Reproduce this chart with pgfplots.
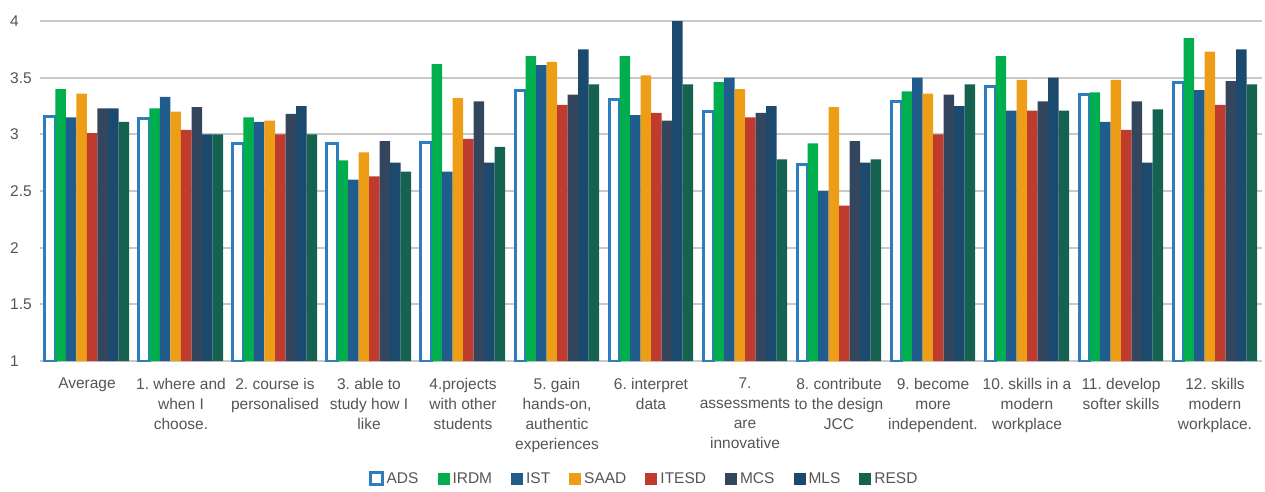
\documentclass[border=0pt]{standalone}
\usepackage{fontspec}
\setmainfont{Liberation Sans}
\usepackage{pgfplots}
\usepackage{pgfplotstable}
\pgfplotsset{compat=1.18}

\definecolor{cADS}{HTML}{2E7DC0}
\definecolor{cIRDM}{HTML}{00AE4D}
\definecolor{cIST}{HTML}{205D8C}
\definecolor{cSAAD}{HTML}{EE9E16}
\definecolor{cITESD}{HTML}{BE3B2E}
\definecolor{cMCS}{HTML}{34465E}
\definecolor{cMLS}{HTML}{1B4A6E}
\definecolor{cRESD}{HTML}{14624F}
\definecolor{gridgray}{HTML}{C9C9C9}
\definecolor{labelgray}{HTML}{555555}

\newcommand\chartfont{\fontsize{15.5}{20}\selectfont}
\frenchspacing

% mean rating per item and programme
\pgfplotstableread{
idx ADS  IRDM IST  SAAD ITESD MCS  MLS  RESD
0   3.16 3.40 3.15 3.36 3.01  3.23 3.23 3.11
1   3.14 3.23 3.33 3.20 3.04  3.24 3.00 3.00
2   2.92 3.15 3.11 3.12 3.00  3.18 3.25 3.00
3   2.92 2.77 2.60 2.84 2.63  2.94 2.75 2.67
4   2.93 3.62 2.67 3.32 2.96  3.29 2.75 2.89
5   3.39 3.69 3.61 3.64 3.26  3.35 3.75 3.44
6   3.31 3.69 3.17 3.52 3.19  3.12 4.00 3.44
7   3.20 3.46 3.50 3.40 3.15  3.19 3.25 2.78
8   2.73 2.92 2.50 3.24 2.37  2.94 2.75 2.78
9   3.29 3.38 3.50 3.36 3.00  3.35 3.25 3.44
10  3.42 3.69 3.21 3.48 3.21  3.29 3.50 3.21
11  3.35 3.37 3.11 3.48 3.04  3.29 2.75 3.22
12  3.46 3.85 3.39 3.73 3.26  3.47 3.75 3.44
}\ratings

\begin{document}
\begin{tikzpicture}
\begin{axis}[
  at={(0pt,0pt)}, anchor=south west,
  scale only axis,
  width=1222pt, height=340pt,
  ymin=1, ymax=4,
  ytick={1,1.5,2,2.5,3,3.5,4},
  xmin=-0.5, xmax=12.5,
  xtick={0,1,2,3,4,5,6,7,8,9,10,11,12},
  xticklabels={
    Average,
    {1. where and\\when I\\choose.},
    {2. course is\\personalised},
    {3. able to\\study how I\\like},
    {4.projects\\with other\\students},
    {5. gain\\hands-on,\\authentic\\experiences},
    {6. interpret\\data},
    {7.\\assessments\\are\\innovative},
    {8. contribute\\to the design\\JCC},
    {9. become\\more\\independent.},
    {10. skills in a\\modern\\workplace},
    {11. develop\\softer skills},
    {12. skills\\modern\\workplace.}
  },
  ybar=0pt, bar width=10.5pt,
  ymajorgrids,
  grid style={line width=2pt, draw=gridgray},
  axis line style={draw=none},
  major tick length=0pt,
  /pgf/number format/assume math mode=true,
  tick label style={font=\chartfont, text=labelgray},
  xticklabel style={align=center, anchor=north, inner sep=0pt, yshift=-17pt},
  yticklabel style={anchor=west, inner sep=0pt, xshift=-30pt},
  legend columns=-1,
  legend style={
    at={(0.4935,-0.3456)}, anchor=center,
    draw=none, fill=none,
    font=\chartfont, text=labelgray,
    nodes={inner sep=0pt},
    /tikz/every odd column/.append style={column sep=3pt},
    /tikz/every even column/.append style={column sep=19pt},
  },
  legend image code/.code={\path[#1] (0pt,-6pt) rectangle (12pt,6pt);},
]
\addplot[fill=white, draw=cADS, line width=3pt] table[x=idx, y=ADS] {\ratings};
\addplot[fill=cIRDM, draw=none] table[x=idx, y=IRDM] {\ratings};
\addplot[fill=cIST, draw=none] table[x=idx, y=IST] {\ratings};
\addplot[fill=cSAAD, draw=none] table[x=idx, y=SAAD] {\ratings};
\addplot[fill=cITESD, draw=none] table[x=idx, y=ITESD] {\ratings};
\addplot[fill=cMCS, draw=none] table[x=idx, y=MCS] {\ratings};
\addplot[fill=cMLS, draw=none] table[x=idx, y=MLS] {\ratings};
\addplot[fill=cRESD, draw=none] table[x=idx, y=RESD] {\ratings};
\legend{ADS, IRDM, IST, SAAD, ITESD, MCS, MLS, RESD}
\end{axis}
\pgfresetboundingbox
\path[use as bounding box] (-40pt,-130pt) rectangle (1225pt,361pt);
\end{tikzpicture}
\end{document}
